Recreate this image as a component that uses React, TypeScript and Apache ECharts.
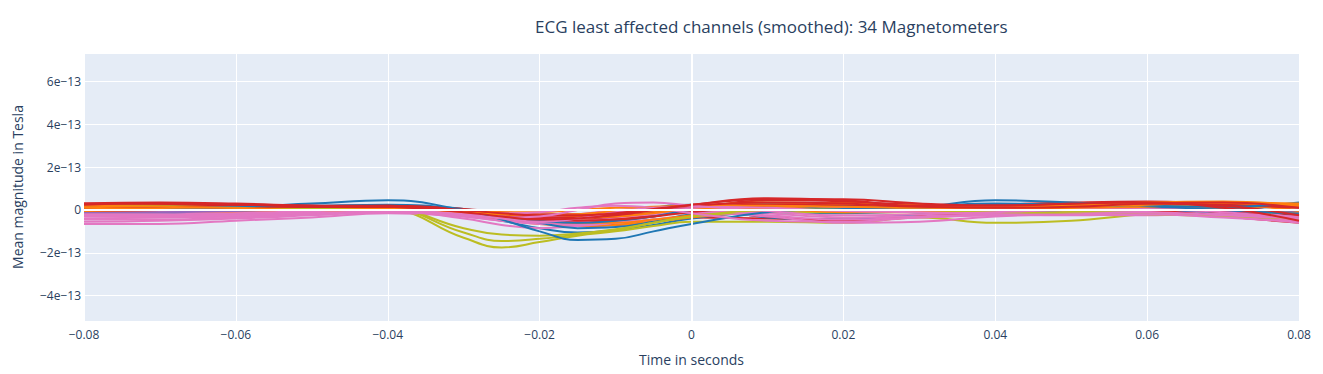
import React, { useEffect, useRef } from "react";
import * as echarts from "echarts";

// time points (seconds)
const times = [-0.08, -0.07, -0.06, -0.05, -0.04, -0.03, -0.025, -0.02, -0.015, -0.01, -0.005, 0, 0.01, 0.02, 0.03, 0.04, 0.05, 0.06, 0.07, 0.08];

// values in units of 1e-13 Tesla
const blue1 = [0.0, 0.05, 0.15, 0.3, 0.45, 0.0, -0.45, -1.0, -1.4, -1.35, -1.0, -0.65, -0.1, 0.05, 0.15, 0.45, 0.35, 0.2, 0.15, 0.35];
const blue2 = [-0.15, -0.15, -0.1, -0.05, 0.05, -0.2, -0.5, -0.85, -1.05, -0.95, -0.7, -0.4, -0.1, -0.15, -0.05, 0.1, 0.15, 0.25, 0.1, -0.1];
const blue3 = [0.1, 0.15, 0.1, 0.05, 0.1, -0.1, -0.3, -0.5, -0.6, -0.5, -0.3, 0.0, 0.3, 0.25, 0.2, 0.3, 0.25, 0.15, 0.0, -0.2];
const blue4 = [-0.25, -0.2, -0.15, -0.1, 0.0, -0.2, -0.35, -0.5, -0.55, -0.3, 0.1, 0.25, -0.35, -0.45, -0.2, -0.1, -0.05, 0.0, -0.15, -0.3];
const blue5 = [0.05, 0.1, 0.15, 0.2, 0.25, 0.05, -0.25, -0.6, -0.85, -0.8, -0.55, -0.2, 0.1, 0.2, 0.1, 0.2, 0.15, 0.1, 0.1, 0.2];
const olive1 = [0.2, 0.15, 0.05, 0.0, 0.0, -1.3, -1.75, -1.5, -1.2, -1.0, -0.75, -0.55, -0.55, -0.6, -0.35, -0.6, -0.5, -0.2, -0.1, -0.2];
const olive2 = [0.1, 0.1, 0.05, 0.0, 0.05, -1.05, -1.45, -1.35, -1.15, -0.95, -0.6, -0.3, -0.1, -0.1, -0.05, 0.0, -0.05, -0.15, -0.25, -0.3];
const olive3 = [0.25, 0.2, 0.1, 0.05, 0.05, -0.85, -1.15, -1.2, -1.1, -0.9, -0.6, -0.3, 0.0, 0.05, 0.0, -0.1, -0.15, -0.2, -0.3, -0.4];
const purple1 = [-0.1, -0.1, -0.05, 0.0, 0.0, -0.15, -0.3, -0.4, -0.35, -0.25, -0.1, 0.05, 0.0, -0.05, 0.0, 0.05, 0.05, 0.0, -0.05, -0.1];
const gray1 = [0.05, 0.0, 0.0, 0.05, 0.1, -0.1, -0.25, -0.35, -0.3, -0.2, -0.05, 0.1, 0.15, 0.05, 0.0, 0.05, 0.1, 0.1, 0.05, -0.15];
const pink1 = [-0.65, -0.65, -0.5, -0.35, -0.15, -0.3, -0.5, -0.6, -0.55, -0.35, -0.2, -0.1, -0.3, -0.6, -0.55, -0.3, -0.2, -0.1, -0.3, -0.5];
const pink2 = [-0.55, -0.5, -0.4, -0.25, -0.1, -0.25, -0.35, -0.3, 0.0, 0.3, 0.35, 0.2, -0.05, -0.25, -0.2, -0.1, 0.0, 0.05, -0.1, -0.4];
const pink3 = [-0.4, -0.35, -0.3, -0.2, -0.05, -0.4, -0.7, -0.85, -0.75, -0.6, -0.45, -0.3, -0.1, 0.0, 0.0, 0.05, 0.0, -0.1, -0.3, -0.45];
const pink4 = [-0.2, -0.2, -0.15, -0.05, 0.0, -0.2, -0.4, -0.55, -0.4, -0.1, 0.1, 0.15, 0.1, -0.05, -0.1, -0.2, -0.25, -0.2, -0.35, -0.55];
const pink5 = [-0.3, -0.3, -0.25, -0.15, -0.1, -0.15, -0.25, -0.3, -0.2, 0.0, 0.1, 0.05, -0.25, -0.45, -0.35, -0.2, -0.15, -0.15, -0.3, -0.6];
const pink6 = [-0.1, -0.1, -0.05, 0.0, 0.05, -0.3, -0.5, -0.65, -0.7, -0.6, -0.45, -0.25, 0.0, 0.1, 0.05, -0.1, -0.2, -0.25, -0.15, -0.3];
const pink7 = [-0.45, -0.45, -0.35, -0.2, -0.05, -0.1, -0.15, -0.1, 0.1, 0.2, 0.1, -0.15, -0.5, -0.55, -0.35, -0.25, -0.2, -0.1, -0.25, -0.4];
const pink8 = [-0.25, -0.25, -0.2, -0.1, -0.05, -0.15, -0.3, -0.45, -0.4, -0.2, 0.0, 0.05, -0.15, -0.35, -0.3, -0.2, -0.15, -0.1, -0.2, -0.3];
const orange1 = [0.2, 0.15, 0.1, 0.0, 0.05, -0.1, -0.2, -0.25, -0.2, -0.05, 0.1, 0.2, 0.35, 0.3, 0.2, 0.15, 0.2, 0.35, 0.4, 0.2];
const orange2 = [0.0, -0.05, -0.1, -0.15, 0.0, -0.15, -0.3, -0.45, -0.5, -0.4, -0.2, 0.0, 0.15, 0.1, 0.05, 0.0, 0.05, 0.15, 0.3, 0.25];
const orange3 = [0.1, 0.05, 0.0, -0.05, 0.05, -0.05, -0.1, -0.1, 0.0, 0.1, 0.15, 0.2, 0.2, 0.15, 0.1, 0.1, 0.15, 0.25, 0.35, 0.3];
const orange4 = [-0.1, -0.1, -0.1, -0.1, 0.0, -0.25, -0.45, -0.65, -0.75, -0.7, -0.55, -0.35, -0.05, 0.05, 0.0, -0.05, 0.0, 0.1, 0.2, 0.0];
const orange5 = [0.05, 0.05, 0.05, 0.0, 0.05, -0.1, -0.25, -0.35, -0.3, -0.2, -0.05, 0.1, 0.1, 0.0, -0.05, 0.0, 0.1, 0.2, 0.25, -0.05];
const orange6 = [0.15, 0.1, 0.05, -0.05, 0.0, -0.2, -0.35, -0.5, -0.6, -0.6, -0.45, -0.25, 0.25, 0.3, 0.15, 0.05, 0.05, 0.1, 0.15, 0.15];
const orange7 = [-0.05, 0.0, 0.0, 0.0, 0.05, -0.05, -0.2, -0.3, -0.35, -0.3, -0.15, 0.05, 0.05, -0.1, -0.1, -0.05, 0.05, 0.15, 0.3, 0.2];
const red1 = [0.3, 0.35, 0.3, 0.2, 0.15, -0.1, -0.3, -0.45, -0.4, -0.25, 0.0, 0.25, 0.55, 0.45, 0.2, 0.2, 0.3, 0.35, 0.1, -0.5];
const red2 = [0.2, 0.25, 0.2, 0.15, 0.1, -0.2, -0.4, -0.55, -0.6, -0.5, -0.3, 0.0, 0.45, 0.4, 0.15, 0.1, 0.2, 0.25, 0.0, -0.55];
const red3 = [0.1, 0.1, 0.1, 0.1, 0.15, 0.0, -0.2, -0.35, -0.4, -0.3, -0.1, 0.1, 0.3, 0.2, 0.15, 0.25, 0.35, 0.4, 0.2, -0.3];
const red4 = [0.0, 0.0, 0.05, 0.05, 0.1, -0.15, -0.35, -0.6, -0.75, -0.7, -0.55, -0.35, -0.4, -0.45, -0.3, -0.1, 0.0, 0.05, -0.2, -0.45];
const red5 = [0.25, 0.3, 0.25, 0.2, 0.2, 0.0, -0.15, -0.25, -0.25, -0.15, 0.05, 0.2, 0.35, 0.3, 0.15, 0.1, 0.15, 0.3, 0.35, 0.1];
const red6 = [-0.05, 0.0, 0.05, 0.1, 0.1, -0.05, -0.25, -0.4, -0.5, -0.45, -0.3, -0.1, 0.2, 0.35, 0.25, 0.15, 0.1, 0.0, -0.3, -0.6];
const red7 = [0.15, 0.2, 0.15, 0.1, 0.1, -0.1, -0.3, -0.5, -0.55, -0.45, -0.25, -0.05, -0.3, -0.5, -0.3, 0.05, 0.2, 0.15, -0.1, -0.35];
const red8 = [0.1, 0.15, 0.15, 0.15, 0.2, 0.05, -0.1, -0.2, -0.2, -0.1, 0.05, 0.15, 0.25, 0.25, 0.2, 0.2, 0.25, 0.3, 0.25, 0.1];
const red9 = [0.3, 0.3, 0.25, 0.2, 0.15, -0.05, -0.2, -0.35, -0.35, -0.2, 0.05, 0.25, 0.5, 0.5, 0.3, 0.2, 0.25, 0.3, 0.2, -0.25];

const BLUE = "#1f77b4";
const OLIVE = "#bcbd22";
const PURPLE = "#9467bd";
const GRAY = "#7f7f7f";
const PINK = "#e377c2";
const ORANGE = "#ff7f0e";
const RED = "#d62728";

// drawing order interleaves the colour groups (later = on top)
const channels: [number[], string][] = [
  [red4, RED], [blue2, BLUE], [orange4, ORANGE], [pink3, PINK], [olive1, OLIVE],
  [red2, RED], [blue4, BLUE], [orange2, ORANGE], [pink6, PINK], [purple1, PURPLE],
  [red7, RED], [blue5, BLUE], [orange6, ORANGE], [pink1, PINK], [olive2, OLIVE],
  [red3, RED], [gray1, GRAY], [orange5, ORANGE], [pink8, PINK], [blue3, BLUE],
  [red6, RED], [orange7, ORANGE], [pink5, PINK], [olive3, OLIVE], [red8, RED],
  [blue1, BLUE], [orange3, ORANGE], [pink7, PINK], [red9, RED], [orange1, ORANGE],
  [pink4, PINK], [red5, RED], [pink2, PINK], [red1, RED],
];

const FONT = "'Open Sans', sans-serif";
const TXT = "#2a3f5f";
const MINUS = "\u2212";

function fmtX(v: number): string {
  const r = Math.round(v * 100) / 100;
  if (r === 0) return "0";
  const s = Math.abs(r).toString();
  return r < 0 ? MINUS + s : s;
}
function fmtY(v: number): string {
  const r = Math.round(v);
  if (Math.abs(v - r) > 1e-6) return "";
  if (r === 0) return "0";
  return (r < 0 ? MINUS : "") + Math.abs(r) + "e" + MINUS + "13";
}

export default function App() {
  const ref = useRef<HTMLDivElement>(null);
  useEffect(() => {
    if (!ref.current) return;
    const chart = echarts.init(ref.current, undefined, { renderer: "svg" });
    const series: any[] = channels.map(([vals, color], k) => ({
      type: "line",
      name: "ch" + k,
      data: times.map((t, i) => [t, vals[i]]),
      showSymbol: false,
      symbol: "none",
      smooth: 0.45,
      lineStyle: { color, width: 2 },
      itemStyle: { color },
      z: 3,
    }));
    series.unshift({
      type: "line",
      data: [],
      silent: true,
      z: 1,
      markLine: {
        silent: true,
        symbol: "none",
        label: { show: false },
        lineStyle: { color: "#ffffff", width: 2, type: "solid" },
        data: [{ xAxis: 0 }, { yAxis: 0 }],
      },
    });
    chart.setOption({
      animation: false,
      title: {
        text: "ECG least affected channels (smoothed): 34 Magnetometers",
        left: 530,
        top: 13,
        textStyle: { fontFamily: FONT, fontSize: 17, fontWeight: "normal", color: TXT },
      },
      grid: {
        left: 84,
        right: 24,
        top: 53,
        bottom: 53,
        show: true,
        backgroundColor: "#e5ecf6",
        borderWidth: 0,
      },
      xAxis: {
        type: "value",
        min: -0.08,
        max: 0.08,
        interval: 0.02,
        name: "Time in seconds",
        nameLocation: "middle",
        nameGap: 31,
        nameTextStyle: { fontFamily: FONT, fontSize: 14, color: TXT },
        axisLine: { show: false },
        axisTick: { show: false },
        splitLine: { show: true, lineStyle: { color: "#ffffff", width: 1 } },
        axisLabel: { fontFamily: FONT, fontSize: 12, color: TXT, margin: 7, formatter: fmtX },
      },
      yAxis: {
        type: "value",
        min: -5.19,
        max: 7.34,
        splitNumber: 6,
        name: "Mean magnitude in Tesla",
        nameLocation: "middle",
        nameGap: 60,
        nameTextStyle: { fontFamily: FONT, fontSize: 14, color: TXT },
        axisLine: { show: false },
        axisTick: { show: false },
        splitLine: { show: true, lineStyle: { color: "#ffffff", width: 1 } },
        axisLabel: {
          fontFamily: FONT,
          fontSize: 12,
          color: TXT,
          margin: 3,
          showMinLabel: false,
          showMaxLabel: false,
          formatter: fmtY,
        },
      },
      series,
    });
    return () => chart.dispose();
  }, []);
  return (
    <div
      ref={ref}
      style={{ position: "fixed", left: 0, top: 0, width: 1323, height: 374, background: "#ffffff" }}
    />
  );
}
